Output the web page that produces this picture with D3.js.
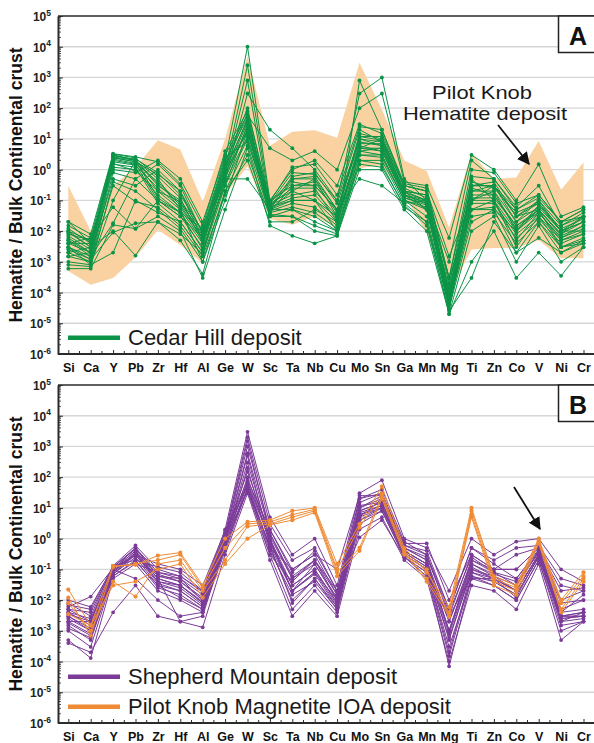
<!DOCTYPE html>
<html><head><meta charset="utf-8">
<script src="https://cdn.jsdelivr.net/npm/d3@7/dist/d3.min.js"></script>
<style>html,body{margin:0;padding:0;background:#fff;}svg{display:block;font-family:Arial,"Liberation Sans",sans-serif;}</style>
</head><body><svg id="chart" width="594" height="743"></svg>
<script>
const elements = ["Si","Ca","Y","Pb","Zr","Hf","Al","Ge","W","Sc","Ta","Nb","Cu","Mo","Sn","Ga","Mn","Mg","Ti","Zn","Co","V","Ni","Cr"];
const yTickExponents = [5,4,3,2,1,0,-1,-2,-3,-4,-5,-6];

// Panel A: Pilot Knob hematite range (shaded band)
const pilotKnobHematiteUpper = [0.3,0.01,0.3,1.2,9,4.5,0.09,10,5000,6,17,19,11,3000,90,2,0.9,0.013,3.5,0.5,0.55,8.5,0.22,1.7];
const pilotKnobHematiteLower = [5e-4,1.8e-4,3e-4,1.4e-3,0.011,3.5e-3,9e-4,0.15,1.3,0.025,0.016,0.03,0.013,1.1,1.4,0.15,0.0085,9.5e-5,0.0025,0.0028,0.0028,0.005,0.0013,0.0013];

// Panel A: Cedar Hill deposit samples
const cedarHill = [
 [0.02,0.004,3,2,0.3,0.1,0.01,2,10000,0.1,0.3,0.3,0.05,10,8,0.2,0.1,1e-4,0.3,0.3,0.02,0.1,0.01,0.02],
 [0.01,0.003,2.5,1.8,0.2,0.05,0.005,1,2500,0.08,0.2,0.1,0.02,5,5,0.15,0.05,5e-5,0.1,0.2,0.01,0.05,0.008,0.03],
 [0.005,0.002,2,1.5,0.1,0.03,0.003,0.8,800,0.06,0.1,0.1,0.01,800,20,0.3,0.2,3e-4,0.5,0.1,0.005,0.04,0.005,0.01],
 [0.003,0.0015,1.5,1.2,0.08,0.02,0.002,0.5,300,20,5,1,0.1,300,1000,0.5,0.1,1e-3,2,0.5,0.05,0.15,0.02,0.05],
 [0.008,0.005,1,0.8,2,0.5,0.02,3,60,5,2,4,1,100,300,0.4,0.3,0.006,3,1,0.1,1.5,0.03,0.06],
 [0.002,0.001,0.8,0.5,1.5,0.3,0.008,2,50,0.05,0.5,0.5,0.03,15,10,0.2,0.05,5e-5,0.05,0.1,0.003,0.03,0.003,0.005],
 [0.0015,0.002,0.5,0.3,1,0.2,0.005,0.3,30,0.05,0.05,0.03,0.01,3,3,0.1,0.03,3e-5,0.02,0.05,0.002,0.02,0.002,0.004],
 [0.001,0.0008,0.1,2,0.5,0.05,0.001,0.1,20,0.03,0.03,0.01,0.007,2,2,0.08,0.02,2e-5,0.01,0.03,0.001,0.015,0.001,0.003],
 [0.0006,0.0006,0.016,0.012,0.03,0.01,3e-4,0.05,5,0.015,0.007,0.004,0.007,1,1,0.05,0.01,2e-5,0.001,0.01,3e-4,0.002,3.5e-4,0.003],
 [0.003,0.0008,0.002,0.1,0.04,0.02,0.002,0.5,0.5,0.05,0.2,0.5,0.05,0.5,0.3,0.08,0.1,3e-4,0.05,0.05,0.01,0.07,0.01,0.01],
 [0.002,0.003,0.01,0.0016,0.02,0.005,4e-4,0.2,2,0.02,0.02,0.05,0.02,5,10,0.3,0.2,1.5e-3,0.1,0.3,0.03,0.05,0.003,0.004],
 [0.004,0.006,0.06,0.012,0.1,0.03,0.006,1.5,15,0.1,1,2,0.3,30,15,0.3,0.2,2e-4,0.2,0.3,0.05,0.12,0.02,0.03],
 [0.006,0.002,2.8,2.2,0.8,0.15,0.01,1,40,0.08,0.8,0.7,0.1,20,8,0.2,0.15,1e-4,0.3,0.4,0.03,0.1,0.015,0.03],
 [0.004,0.002,2.2,1.6,0.4,0.08,0.008,0.5,25,0.06,0.4,0.3,0.05,8,6,0.15,0.1,6e-5,0.2,0.2,0.02,0.06,0.01,0.02],
 [0.012,0.004,1.8,1.4,0.25,0.06,0.006,0.7,35,0.07,0.15,0.2,0.03,6,4,0.12,0.08,4e-5,0.15,0.15,0.015,0.04,0.006,0.015],
 [0.007,0.0025,3.2,2.4,0.6,0.12,0.004,1.2,70,0.04,0.3,0.4,0.04,12,12,0.25,0.12,8e-5,0.4,0.25,0.04,0.08,0.012,0.025],
 [0.0025,0.0012,1.2,1,0.15,0.04,0.0025,0.4,12,0.045,0.08,0.06,0.015,4,3,0.1,0.06,3e-5,0.08,0.08,0.008,0.03,0.005,0.008],
 [0.015,0.006,3,2,0.12,0.04,0.012,2.5,8,0.06,0.6,0.8,0.08,10,6,0.18,0.1,1.5e-4,0.6,0.5,0.06,0.3,0.015,0.04],
 [0.0015,0.001,0.3,0.09,0.06,0.015,0.0015,0.15,3,0.03,0.05,0.02,0.01,2,1.5,0.06,0.02,4e-5,0.03,0.04,0.004,0.02,0.003,0.006],
 [0.009,0.003,2.6,2,0.35,0.07,0.006,0.9,45,0.07,0.25,0.25,0.02,7,7,0.15,0.08,6e-5,0.25,0.15,0.012,0.05,0.008,0.02],
 [0.005,0.0015,0.018,0.5,0.1,0.04,0.004,0.6,20,0.05,0.1,0.1,0.03,4,5,0.12,0.07,5e-5,0.1,0.1,0.01,0.04,0.006,0.012],
 [0.003,0.0012,0.009,0.018,0.02,0.008,0.0018,0.3,10,0.04,0.06,0.04,0.012,3,2.5,0.1,0.05,4e-5,0.05,0.06,0.006,0.025,0.004,0.008],
 [0.02,0.008,3.3,2.6,1.8,0.35,0.015,4,80,0.09,1.2,1.5,0.15,25,20,0.35,0.25,3e-4,1,0.8,0.08,0.15,0.02,0.05],
 [0.0008,0.0007,0.4,0.2,0.05,0.012,0.001,0.2,6,0.035,0.03,0.015,0.008,1.5,1.2,0.07,0.015,2.5e-5,3e-4,0.02,0.002,0.006,0.002,0.005],
 [0.01,0.005,1.6,0.9,0.2,0.09,0.007,0.8,18,0.06,0.12,0.15,0.025,5,4,0.14,0.09,7e-5,0.12,0.12,0.015,0.05,0.007,0.015],
 [0.004,0.004,2.4,1.8,0.7,0.2,0.009,1.5,100,0.08,0.5,0.6,0.05,12,9,0.2,0.15,1e-4,0.3,0.3,0.03,0.08,0.01,0.03]
];

// Panel B: Shepherd Mountain deposit samples
const shepherdMountain = [
 [0.008,0.003,0.13,0.6,0.1,0.06,0.02,2,3000,5,0.3,1,0.03,30,80,1,0.5,0.02,1,0.3,0.8,1,0.1,0.04],
 [0.005,0.002,0.12,0.5,0.08,0.05,0.015,1.5,2000,3,0.2,0.5,0.02,20,40,0.8,0.3,0.005,0.5,0.2,0.5,0.6,0.05,0.03],
 [0.004,0.0015,0.1,0.4,0.06,0.04,0.01,1.2,1000,2,0.1,0.3,0.015,15,30,0.6,0.3,0.003,0.3,0.1,0.3,0.5,0.03,0.02],
 [0.003,0.001,0.09,0.35,0.05,0.03,0.008,1,600,1.5,0.05,0.2,0.01,10,20,0.5,0.2,0.002,0.2,0.08,0.05,0.4,0.005,0.01],
 [0.002,0.0008,0.08,0.3,0.04,0.025,0.007,0.8,300,1,0.03,0.1,0.008,8,15,0.4,0.15,0.001,0.15,0.06,0.03,0.35,0.004,0.005],
 [0.0015,0.0005,0.07,0.25,0.03,0.02,0.006,0.6,100,0.8,0.02,0.08,0.007,6,12,0.35,0.12,5e-4,0.1,0.05,0.02,0.3,0.003,0.003],
 [0.001,0.0003,0.06,0.2,0.025,0.015,0.005,0.5,60,0.5,0.01,0.05,0.005,5,10,0.3,0.1,2e-4,0.08,0.04,0.015,0.25,0.002,0.0025],
 [0.0005,0.00013,0.05,0.15,0.02,0.01,0.004,0.4,40,0.3,0.005,0.03,0.004,3,8,0.25,0.08,7e-5,0.05,0.03,0.01,0.2,0.0015,0.002],
 [0.0004,0.0002,0.004,0.03,0.003,0.002,0.0013,0.3,30,0.2,0.003,0.02,0.003,2,5,0.2,0.05,1e-4,0.03,0.02,0.005,0.15,5e-4,0.002],
 [0.006,0.013,0.11,0.3,0.15,0.1,0.03,1.8,50,0.5,0.1,0.3,0.1,25,25,0.7,0.7,0.01,0.3,0.1,0.1,0.5,0.01,0.02],
 [0.002,0.002,0.1,0.05,0.01,0.003,0.004,1,70,1,0.02,0.15,0.01,5,20,0.5,0.2,0.001,0.2,0.1,0.1,0.5,0.003,0.003],
 [0.003,0.0012,0.09,0.3,0.05,0.002,0.003,0.7,40,0.6,0.008,0.05,0.006,4,10,0.3,0.1,3e-4,0.05,0.05,0.02,0.3,0.002,0.004],
 [0.005,0.004,0.12,0.45,0.07,0.04,0.012,1.2,150,1.2,0.05,0.15,0.012,12,15,0.4,0.15,0.002,0.15,0.07,0.04,0.35,0.004,0.015],
 [0.0012,0.0006,0.06,0.18,0.03,0.012,0.005,0.5,45,0.4,0.015,0.04,0.005,4,8,0.25,0.08,1.5e-4,0.06,0.04,0.015,0.25,0.0025,0.003],
 [0.007,0.005,0.13,0.2,0.12,0.08,0.02,1.5,80,2,0.08,0.4,0.02,20,30,0.6,0.4,0.005,0.5,0.15,0.05,0.45,0.02,0.025],
 [0.0025,0.001,0.08,0.35,0.04,0.03,0.008,0.9,500,0.7,0.03,0.1,0.008,7,12,0.35,0.12,8e-4,0.1,0.06,0.02,0.3,0.003,0.004],
 [0.004,0.0025,0.1,0.5,0.06,0.05,0.01,1.3,1500,1.5,0.06,0.2,0.015,10,25,0.5,0.25,0.004,0.25,0.08,0.03,0.4,0.008,0.01],
 [0.0018,0.0007,0.07,0.3,0.035,0.02,0.006,0.7,200,0.6,0.02,0.07,0.006,6,10,0.3,0.1,6e-4,0.08,0.05,0.012,0.28,0.0025,0.003],
 [0.01,0.006,0.12,0.15,0.08,0.06,0.018,1,35,0.3,0.04,0.2,0.02,1.1,4,0.25,0.06,0.003,0.06,0.03,0.01,0.2,0.001,0.002],
 [0.0035,0.002,0.1,0.4,0.05,0.03,0.009,1,60,0.9,0.02,0.08,0.01,8,15,0.4,0.15,0.001,0.12,0.05,0.02,0.3,0.003,0.004]
];

// Panel B: Pilot Knob Magnetite IOA deposit samples
const pilotKnobMagnetite = [
 [0.022,0.0015,0.13,0.14,0.28,0.35,0.03,1,3.5,4,8,10,0.15,3,50,0.5,0.08,0.006,10,0.06,0.03,1,0.01,0.08],
 [0.012,0.0007,0.12,0.15,0.2,0.3,0.025,0.5,3,3.5,6,9,0.1,2.3,30,0.4,0.05,0.004,8,0.05,0.025,0.9,0.008,0.06],
 [0.008,0.001,0.04,0.013,0.15,0.2,0.02,0.2,2.5,3,5,8,0.08,0.5,25,0.35,0.04,0.003,6,0.04,0.02,0.8,0.005,0.05],
 [0.0035,0.0015,0.03,0.04,0.1,0.15,0.012,0.15,1,2.8,4,7,0.06,0.4,20,0.3,0.1,0.003,5,0.03,0.015,0.7,0.004,0.04]
];

const COLORS = {green:"#0b9447", purple:"#7b3b98", orange:"#ef8b35", band:"#fad1a0", grid:"#d6d6d6", axis:"#2b2b2b"};

const svg = d3.select("#chart");
svg.append("rect").attr("width",594).attr("height",743).attr("fill","#fff");

const xLeft = 58, xRight = 594;
const x = d3.scalePoint().domain(elements).range([68.3, 583.5]);
const step = x.step();

function drawPanel(cfg){
  const g = svg.append("g");
  const y = d3.scaleLog().domain([1e-6,1e5]).range([cfg.bottom, cfg.top]);

  // grid
  g.append("g").selectAll("line").data(yTickExponents.filter(e=>e<5&&e>-6)).join("line")
    .attr("x1",xLeft).attr("x2",xRight).attr("y1",e=>y(Math.pow(10,e))).attr("y2",e=>y(Math.pow(10,e)))
    .attr("stroke",COLORS.grid).attr("stroke-width",1.3);

  const line = d3.line().x((d,i)=>x(elements[i])).y(d=>y(d));

  if(cfg.band){
    const area = d3.area().x((d,i)=>x(elements[i])).y0((d,i)=>y(cfg.band[1][i])).y1(d=>y(d));
    g.append("path").datum(cfg.band[0]).attr("d",area).attr("fill",COLORS.band).attr("stroke","none");
  }

  cfg.series.forEach(s=>{
    const sg = g.append("g");
    s.data.forEach(row=>{
      sg.append("path").datum(row).attr("d",line).attr("fill","none").attr("stroke",s.color).attr("stroke-width",1).attr("stroke-linejoin","round");
    });
    s.data.forEach(row=>{
      sg.append("g").selectAll("circle").data(row).join("circle")
        .attr("cx",(d,i)=>x(elements[i])).attr("cy",d=>y(d)).attr("r",s.r||1.9).attr("fill",s.color);
    });
  });

  // top border
  g.append("line").attr("x1",xLeft).attr("x2",xRight).attr("y1",cfg.top).attr("y2",cfg.top).attr("stroke",COLORS.axis).attr("stroke-width",1.5);

  // left axis
  const yAxis = d3.axisLeft(y).tickValues(yTickExponents.map(e=>Math.pow(10,e))).tickSizeInner(-5).tickSizeOuter(0).tickFormat("");
  const ya = g.append("g").attr("transform",`translate(${xLeft},0)`).call(yAxis);
  ya.select(".domain").attr("stroke",COLORS.axis).attr("stroke-width",2);
  ya.selectAll(".tick line").attr("stroke",COLORS.axis);
  ya.selectAll(".tick").each(function(d){
    const e = Math.round(Math.log10(d));
    const t = d3.select(this).append("text").attr("x",-7).attr("y",4.5).attr("text-anchor","end")
      .attr("fill","#222").attr("font-weight","bold").attr("font-size","12px");
    t.append("tspan").text("10");
    t.append("tspan").attr("dy","-5.5").attr("font-size","8.5px").text(String(e));
  });
  // minor ticks
  const minors = [];
  for(let e=-6;e<5;e++){ for(let k=2;k<10;k++) minors.push(k*Math.pow(10,e)); }
  g.append("g").selectAll("line").data(minors).join("line")
    .attr("x1",xLeft).attr("x2",xLeft+3).attr("y1",d=>y(d)).attr("y2",d=>y(d)).attr("stroke",COLORS.axis).attr("stroke-width",0.8);

  // bottom axis
  const xAxis = d3.axisBottom(x).tickSizeInner(-4).tickSizeOuter(0).tickPadding(9);
  const xa = g.append("g").attr("transform",`translate(0,${cfg.bottom})`).call(xAxis);
  xa.select(".domain").remove();
  xa.append("line").attr("x1",xLeft).attr("x2",xRight).attr("stroke",COLORS.axis).attr("stroke-width",2);
  xa.selectAll(".tick line").attr("stroke",COLORS.axis);
  xa.selectAll(".tick text").attr("fill","#111").attr("font-weight","bold").attr("font-size","12.5px").attr("font-family","Arial, 'Liberation Sans', sans-serif");
  g.append("g").selectAll("line").data(elements.slice(0,-1)).join("line")
    .attr("x1",d=>x(d)+step/2).attr("x2",d=>x(d)+step/2).attr("y1",cfg.bottom).attr("y2",cfg.bottom-3).attr("stroke",COLORS.axis);

  // y title
  g.append("text").attr("transform",`translate(22,${(cfg.top+cfg.bottom)/2}) rotate(-90)`).attr("text-anchor","middle")
    .attr("font-weight","bold").attr("font-size","17.5px").attr("fill","#111").text("Hematite / Bulk Continental crust");

  // panel label box
  g.append("rect").attr("x",558.5).attr("y",cfg.top).attr("width",40).attr("height",36.5).attr("fill","#fff").attr("stroke","#222").attr("stroke-width",1.5);
  g.append("text").attr("x",578).attr("y",cfg.top+29).attr("text-anchor","middle").attr("font-weight","bold").attr("font-size","25px").attr("fill","#111").text(cfg.label);

  // legend
  cfg.legend.forEach(l=>{
    g.append("line").attr("x1",68).attr("x2",120).attr("y1",l.y).attr("y2",l.y).attr("stroke",l.color).attr("stroke-width",4.5);
    g.append("text").attr("x",128).attr("y",l.y+7).attr("font-size","22px").attr("fill","#1a1a1a").text(l.text);
  });
  return {g,y};
}

drawPanel({top:16,bottom:354,label:"A",
  band:[pilotKnobHematiteUpper,pilotKnobHematiteLower],
  series:[{data:cedarHill,color:COLORS.green}],
  legend:[{y:337.7,color:COLORS.green,text:"Cedar Hill deposit"}]});

drawPanel({top:385,bottom:723,label:"B",
  series:[{data:shepherdMountain,color:COLORS.purple},{data:pilotKnobMagnetite,color:COLORS.orange,r:2.1}],
  legend:[{y:676.7,color:COLORS.purple,text:"Shepherd Mountain deposit"},{y:706.7,color:COLORS.orange,text:"Pilot Knob Magnetite IOA deposit"}]});

// annotations
svg.append("defs").append("marker").attr("id","ah").attr("viewBox","0 0 10 10").attr("refX",9).attr("refY",5)
  .attr("markerWidth",7).attr("markerHeight",7).attr("orient","auto")
  .append("path").attr("d","M0,0 L10,5 L0,10 Z").attr("fill","#111");
const ann = svg.append("g").attr("font-size","19px").attr("fill","#1a1a1a").attr("text-anchor","middle");
ann.append("text").attr("x",482).attr("y",99).attr("textLength",100).attr("lengthAdjust","spacingAndGlyphs").text("Pilot Knob");
ann.append("text").attr("x",485).attr("y",120).attr("textLength",164).attr("lengthAdjust","spacingAndGlyphs").text("Hematite deposit");
svg.append("line").attr("x1",498).attr("y1",125).attr("x2",529).attr("y2",164).attr("stroke","#111").attr("stroke-width",1.8).attr("marker-end","url(#ah)");
svg.append("line").attr("x1",514).attr("y1",487).attr("x2",540).attr("y2",529).attr("stroke","#111").attr("stroke-width",1.8).attr("marker-end","url(#ah)");
</script></body></html>
